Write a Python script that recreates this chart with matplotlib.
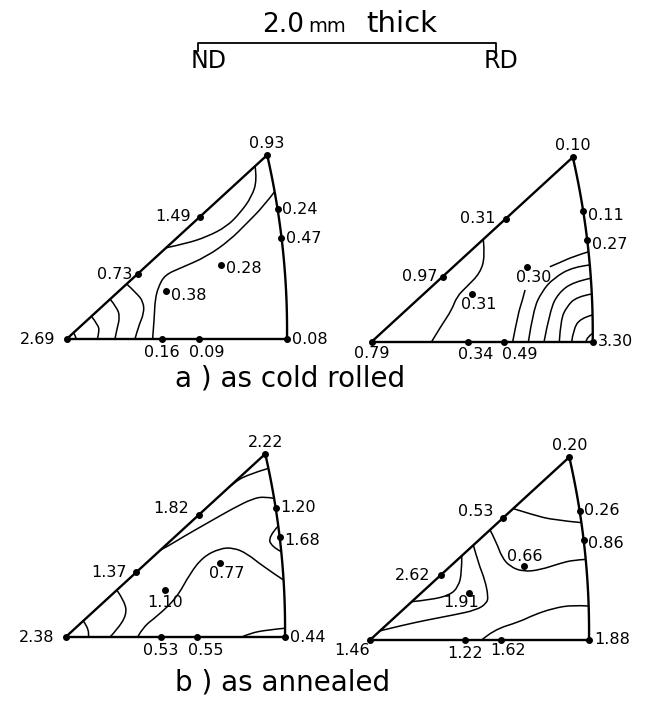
import numpy as np
import matplotlib
matplotlib.use("Agg")
import matplotlib.pyplot as plt
from matplotlib.path import Path
from matplotlib.patches import PathPatch
from matplotlib.lines import Line2D

FIG_W, FIG_H = 648, 704

# unit stereographic triangle: 001 at (0, 0), 101 at (1, 0), 111 at APEX
APEX = (0.91, 0.835)
BULGE = 0.025  # outward bow of the 101-111 great circle

# measured orientations, same for every panel:
# 001, 101, 111, 001-111 edge (x2), 101-111 edge (x2), interior (x2), 001-101 edge (x2)
pole_u = [0.0, 1.0, 0.91, 0.606, 0.322, 0.957, 0.975, 0.702, 0.452, 0.434, 0.600]
pole_v = [0.0, 0.0, 0.835, 0.556, 0.295, 0.590, 0.458, 0.337, 0.216, 0.0, 0.0]

# pole densities, a) as cold rolled (ND side, RD side)
a_nd_values = [2.69, 0.08, 0.93, 1.49, 0.73, 0.24, 0.47, 0.28, 0.38, 0.16, 0.09]
a_rd_values = [0.79, 3.30, 0.10, 0.31, 0.97, 0.11, 0.27, 0.30, 0.31, 0.34, 0.49]
# b) as annealed
b_nd_values = [2.38, 0.44, 2.22, 1.82, 1.37, 1.20, 1.68, 0.77, 1.10, 0.53, 0.55]
b_rd_values = [1.46, 1.88, 0.20, 0.53, 2.62, 0.26, 0.86, 0.66, 1.91, 1.22, 1.62]

# iso-density lines, (u, v) in triangle units
a_nd_contours = [
    [(0.855, 0.785), (0.864, 0.722), (0.840, 0.646), (0.787, 0.572), (0.726, 0.510),
     (0.636, 0.464), (0.545, 0.434), (0.451, 0.414)],
    [(0.944, 0.669), (0.892, 0.601), (0.817, 0.525), (0.741, 0.449), (0.636, 0.374),
     (0.514, 0.321), (0.446, 0.291), (0.416, 0.237), (0.401, 0.177), (0.398, 0.101),
     (0.390, 0.0)],
    [(0.272, 0.250), (0.318, 0.207), (0.348, 0.169), (0.351, 0.117), (0.325, 0.056),
     (0.310, 0.0)],
    [(0.197, 0.181), (0.227, 0.144), (0.242, 0.101), (0.227, 0.041), (0.219, 0.0)],
    [(0.112, 0.103), (0.143, 0.064), (0.148, 0.033), (0.139, 0.0)],
    [(0.030, 0.028), (0.042, 0.014), (0.042, 0.0)],
]
a_rd_contours = [
    [(0.505, 0.463), (0.513, 0.385), (0.490, 0.310), (0.430, 0.249), (0.385, 0.204),
     (0.362, 0.143), (0.317, 0.076), (0.271, 0.0)],
    [(0.981, 0.407), (0.911, 0.385), (0.856, 0.360), (0.806, 0.339)],
    [(0.694, 0.234), (0.680, 0.180), (0.663, 0.130), (0.638, 0.0)],
    [(0.987, 0.347), (0.912, 0.339), (0.822, 0.287), (0.769, 0.226), (0.731, 0.143),
     (0.709, 0.0)],
    [(0.992, 0.287), (0.912, 0.271), (0.844, 0.219), (0.807, 0.143), (0.780, 0.0)],
    [(0.996, 0.216), (0.928, 0.204), (0.882, 0.158), (0.855, 0.098), (0.849, 0.0)],
    [(0.999, 0.121), (0.943, 0.106), (0.912, 0.053), (0.905, 0.0)],
    [(1.000, 0.038), (0.973, 0.020), (0.970, 0.0)],
]
b_nd_contours = [
    [(0.924, 0.769), (0.825, 0.739), (0.764, 0.701), (0.741, 0.680)],
    [(0.950, 0.632), (0.909, 0.640), (0.855, 0.632), (0.764, 0.587), (0.643, 0.518),
     (0.536, 0.457), (0.476, 0.420), (0.430, 0.395)],
    [(0.969, 0.506), (0.924, 0.457), (0.939, 0.412), (0.983, 0.389)],
    [(0.993, 0.260), (0.901, 0.321), (0.825, 0.382), (0.764, 0.407), (0.704, 0.404),
     (0.627, 0.366), (0.567, 0.290), (0.506, 0.178), (0.415, 0.093), (0.354, 0.047),
     (0.328, 0.0)],
    [(0.233, 0.214), (0.270, 0.161), (0.278, 0.100), (0.233, 0.032), (0.202, 0.0)],
    [(0.080, 0.073), (0.111, 0.032), (0.103, 0.0)],
    [(1.000, 0.040), (0.917, 0.032), (0.840, 0.017), (0.803, 0.0)],
]
b_rd_contours = [
    [(0.654, 0.600), (0.746, 0.571), (0.837, 0.548), (0.965, 0.536)],
    [(0.548, 0.503), (0.579, 0.442), (0.601, 0.380), (0.639, 0.335), (0.700, 0.312),
     (0.776, 0.320), (0.868, 0.350), (0.928, 0.365), (0.985, 0.368)],
    [(0.472, 0.433), (0.495, 0.350), (0.525, 0.274), (0.540, 0.198), (0.533, 0.168),
     (0.487, 0.137), (0.380, 0.114), (0.259, 0.091), (0.152, 0.068), (0.046, 0.042)],
    [(0.190, 0.175), (0.274, 0.183), (0.365, 0.205), (0.403, 0.243), (0.419, 0.305),
     (0.419, 0.384)],
    [(0.510, 0.0), (0.563, 0.046), (0.685, 0.084), (0.746, 0.114), (0.837, 0.145),
     (0.928, 0.160), (0.998, 0.155)],
]

# label placement: offset in points, ha, va
PLACES = {
    "left": (-4, 0, "right", "center"),
    "left_far": (-7, 0, "right", "center"),
    "left_up": (-7, 5, "right", "center"),
    "right": (3.5, 0, "left", "center"),
    "right_down": (3.5, -3, "left", "center"),
    "above": (0, 5, "center", "baseline"),
    "above_dot": (1, 4, "center", "baseline"),
    "below": (0, -4, "center", "top"),
    "below_right": (6, -4, "center", "top"),
    "below_far_right": (11, -4, "center", "top"),
    "below_dot": (5, -2, "center", "top"),
    "below_dot_left": (-6, -2, "center", "top"),
    "corner_left": (-8, 0, "right", "center"),
    "corner_below": (0, -3, "center", "top"),
    "corner_below_left": (0, -2, "right", "top"),
}
a_nd_places = ["corner_left", "right", "above", "left_far", "left", "right", "right",
               "right_down", "right_down", "below", "below_right"]
a_rd_places = ["corner_below", "right", "above", "left_far", "left", "right_down",
               "right_down", "below_dot", "below_dot", "below_right", "below_far_right"]
b_nd_places = ["corner_left", "right", "above", "left_up", "left_far", "right",
               "right_down", "below_dot", "below", "below", "below_right"]
b_rd_places = ["corner_below_left", "right", "above", "left_up", "left_far", "right",
               "right_down", "above_dot", "below_dot_left", "below", "below_dot"]


def smooth_path(pts):
    pts = np.asarray(pts, dtype=float)
    verts = [pts[0]]
    codes = [Path.MOVETO]
    if len(pts) == 2:
        verts.append(pts[1])
        codes.append(Path.LINETO)
        return Path(verts, codes)
    for i in range(1, len(pts) - 1):
        end = pts[-1] if i == len(pts) - 2 else (pts[i] + pts[i + 1]) / 2
        verts += [pts[i], end]
        codes += [Path.CURVE3, Path.CURVE3]
    return Path(verts, codes)


def draw_triangle(fig, left, base, width, values, contours, places):
    # one axes per triangle, 1 data unit = width px in both directions
    ax = fig.add_axes([left / FIG_W, (FIG_H - base) / FIG_H,
                       width / FIG_W, 0.9 * width / FIG_H])
    ax.set_xlim(0, 1)
    ax.set_ylim(0, 0.9)
    ax.axis("off")

    t = np.linspace(0, 1, 80)
    ru = 1 + (APEX[0] - 1) * t + BULGE * 4 * t * (1 - t)
    rv = APEX[1] * t
    kw = dict(color="black", lw=1.7, solid_capstyle="round", clip_on=False)
    ax.plot([0, APEX[0]], [0, APEX[1]], **kw)
    ax.plot([0, 1], [0, 0], **kw)
    ax.plot(ru, rv, **kw)

    for line in contours:
        ax.add_patch(PathPatch(smooth_path(line), fill=False, ec="black",
                               lw=1.1, clip_on=False))

    ax.plot(pole_u, pole_v, "o", color="black", ms=4, clip_on=False, zorder=4)
    for u, v, val, where in zip(pole_u, pole_v, values, places):
        dx, dy, ha, va = PLACES[where]
        ax.annotate(f"{val:.2f}", (u, v), xytext=(dx, dy), textcoords="offset points",
                    ha=ha, va=va, fontsize=11.5, annotation_clip=False)
    return ax


def px(x, y):
    return x / FIG_W, 1 - y / FIG_H


fig = plt.figure(figsize=(FIG_W / 100, FIG_H / 100), dpi=100)
fig.patch.set_facecolor("white")

draw_triangle(fig, 66.7, 339, 220.3, a_nd_values, a_nd_contours, a_nd_places)
draw_triangle(fig, 371.7, 341.7, 221, a_rd_values, a_rd_contours, a_rd_places)
draw_triangle(fig, 65.7, 637, 219.3, b_nd_values, b_nd_contours, b_nd_places)
draw_triangle(fig, 370, 640, 219, b_rd_values, b_rd_contours, b_rd_places)

# sheet thickness bracket, ND surface to RD
fig.text(*px(262, 32), "2.0", fontsize=19, ha="left", va="baseline")
fig.text(*px(308, 32), "mm", fontsize=14, ha="left", va="baseline")
fig.text(*px(366, 32), "thick", fontsize=21, ha="left", va="baseline")
bx, by = zip(px(198, 51), px(198, 43), px(496, 43), px(496, 51))
fig.add_artist(Line2D(bx, by, color="black", lw=1.3, transform=fig.transFigure))
fig.text(*px(191, 68), "ND", fontsize=17, ha="left", va="baseline")
fig.text(*px(518, 68), "RD", fontsize=17, ha="right", va="baseline")

fig.text(*px(175, 387), "a ) as cold rolled", fontsize=20, ha="left", va="baseline")
fig.text(*px(175, 690), "b ) as annealed", fontsize=20, ha="left", va="baseline")

fig.savefig("out.png", dpi=100, facecolor="white")
